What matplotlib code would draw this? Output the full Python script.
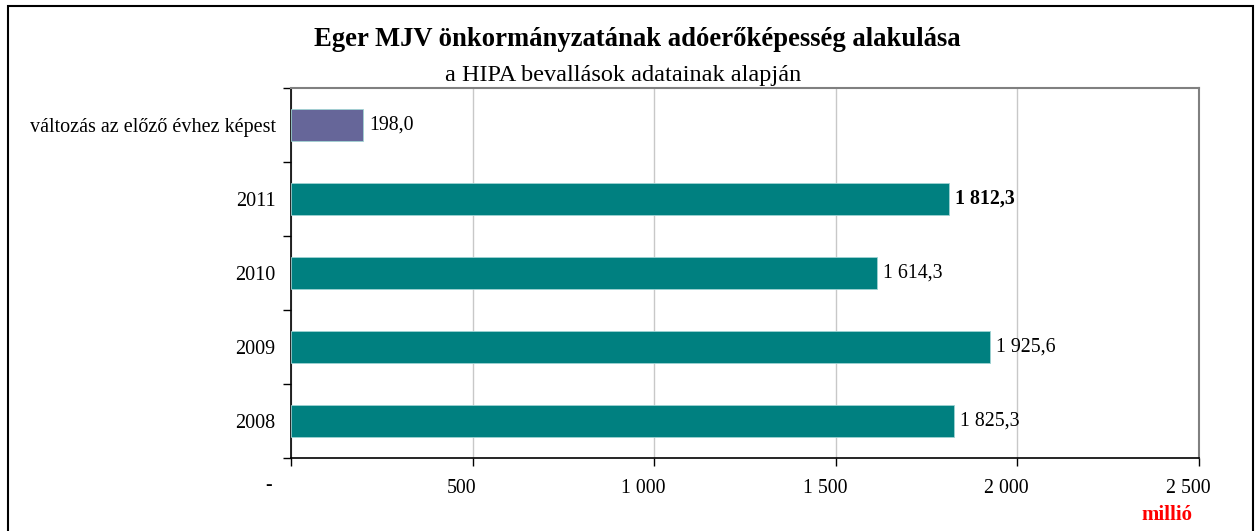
import matplotlib
matplotlib.use("Agg")
import matplotlib.pyplot as plt
import matplotlib.transforms as mtransforms
from matplotlib.patches import Rectangle
from matplotlib.ticker import FixedLocator

categories = ["2008", "2009", "2010", "2011", "változás az előző évhez képest"]
values = [1825.3, 1925.6, 1614.3, 1812.3, 198.0]
bar_colors = ["#008080", "#008080", "#008080", "#008080", "#666699"]
value_labels = ["1 825,3", "1 925,6", "1 614,3", "1 812,3", "198,0"]
bold_flags = [False, False, False, True, False]
xticks = [0, 500, 1000, 1500, 2000, 2500]
xtick_labels = ["", "500", "1 000", "1 500", "2 000", "2 500"]

plt.rcParams['font.family'] = ['Liberation Serif', 'DejaVu Serif']

W, H = 1258, 531
fig = plt.figure(figsize=(W / 100, H / 100), dpi=100)
fig.patches.append(Rectangle((8 / W, -0.05), (1253 - 8) / W, 1.05 - 6 / H,
                             transform=fig.transFigure, fill=False,
                             edgecolor="black", linewidth=1.5))

ax = fig.add_axes([291 / W, (H - 458) / H, (1199 - 291) / W, (458 - 88) / H])
y = list(range(len(categories)))
ax.barh(y, values, height=0.42, color=bar_colors, edgecolor="#9fd3d3",
        linewidth=0.6, zorder=3)
ax.set_xlim(0, 2500)
ax.set_ylim(-0.5, len(categories) - 0.5)

ax.set_xticks(xticks)
ax.set_xticklabels(xtick_labels, fontsize=14.3)
ax.tick_params(axis="x", direction="out", length=6, width=1, pad=9, colors="black")
shift = mtransforms.ScaledTranslation(-11 / 100, 0, fig.dpi_scale_trans)
for lab in ax.get_xticklabels():
    lab.set_transform(lab.get_transform() + shift)
ax.set_yticks(y)
ax.set_yticklabels(categories, fontsize=14.5)
ax.tick_params(axis="y", which="major", length=0, pad=11)
ax.yaxis.set_minor_locator(FixedLocator([i - 0.5 for i in range(len(categories) + 1)]))
ax.tick_params(axis="y", which="minor", direction="out", length=6, width=1)

ax.grid(axis="x", color="#c8c8c8", linewidth=1, zorder=0)
ax.set_axisbelow(True)
for s in ["top", "right"]:
    ax.spines[s].set_color("#808080")
    ax.spines[s].set_linewidth(1.5)
for s in ["left", "bottom"]:
    ax.spines[s].set_color("black")
    ax.spines[s].set_linewidth(1.2)

for yi, v, lab, b in zip(y, values, value_labels, bold_flags):
    ax.annotate(lab, (v, yi), xytext=(6, 0), textcoords="offset pixels",
                va="center", ha="left", fontsize=14.3,
                fontweight="bold" if b else "normal", zorder=4)

# zero tick label shown as "-"
ax.annotate("-", (0, 0), xycoords=("data", "axes fraction"), xytext=(-22, -28),
            textcoords="offset pixels", ha="center", va="center", fontsize=14.3)

fig.text(637 / W, 1 - 40 / H, "Eger MJV önkormányzatának adóerőképesség alakulása",
         ha="center", va="center", fontsize=19.2, fontweight="bold")
fig.text(623 / W, 1 - 75 / H, "a HIPA bevallások adatainak alapján",
         ha="center", va="center", fontsize=17.5)
fig.text(1167 / W, 1 - 515 / H, "millió", ha="center", va="center",
         fontsize=15, fontweight="bold", color="#ff0000")

fig.savefig("out.png", dpi=100)
